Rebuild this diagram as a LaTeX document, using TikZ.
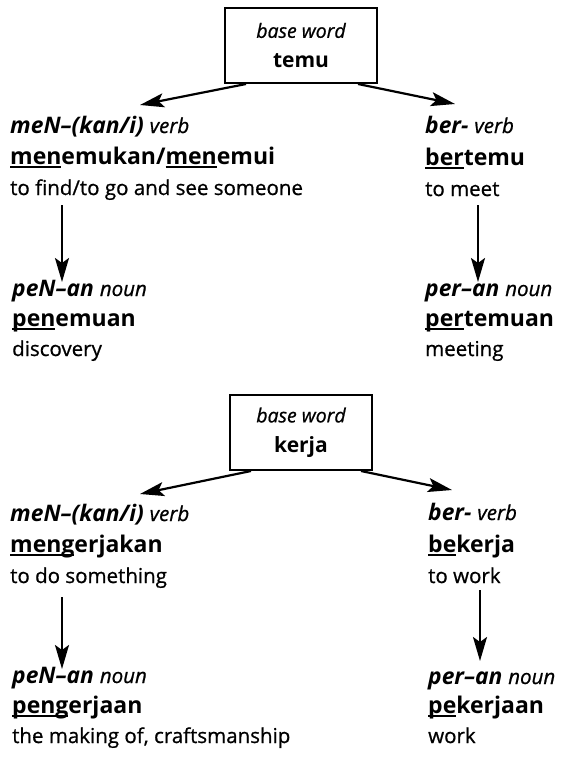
\documentclass[tikz,border=0pt]{standalone}
\usepackage{fontspec}
\setmainfont{Open Sans}[UprightFeatures={FakeBold=0.8}, ItalicFeatures={FakeBold=0.8}]
\usetikzlibrary{arrows.meta}
\newcommand\ulx[1]{\setbox0\hbox{#1}\rlap{\rule[-3.5pt]{\wd0}{1.9pt}}\box0}
\newcommand\wcls[2]{{\bfseries\itshape #1}\ {\itshape\fontsize{20.5}{24}\selectfont #2}}
\tikzset{
  lbl/.style={anchor=base west, inner sep=0pt, font=\fontsize{20.5}{24}\selectfont},
  hdl/.style={anchor=base west, inner sep=0pt, font=\fontsize{22.8}{26}\selectfont},
  wrd/.style={anchor=base west, inner sep=0pt, font=\fontsize{23}{26}\selectfont\bfseries},
  basebox/.style={draw, line width=2pt, minimum height=75pt, align=center,
    inner sep=0pt, font=\fontsize{19.5}{30}\selectfont},
  arr/.style={line width=2.2pt, -{Stealth[length=24pt,width=14pt,inset=5pt]}}
}
\begin{document}
\begin{tikzpicture}[x=1pt,y=-1pt]
\useasboundingbox (0,0) rectangle (563,758);
% ---- temu ----
\node[basebox, minimum width=152pt] (t1) at (301,45.5) {{\itshape base word}\\{\bfseries\fontsize{21}{30}\selectfont temu}};
\node[hdl] (a1) at (10,133) {\wcls{meN–(kan/i)}{verb}};
\node[wrd] (a2) at (10,164) {\ulx{men}emukan/\ulx{men}emui};
\node[lbl] (a3) at (10,195) {to find/to go and see someone};
\node[hdl] (b1) at (425,133) {\wcls{ber-}{verb}};
\node[wrd] (b2) at (425,165) {\ulx{ber}temu};
\node[lbl] (b3) at (425,196) {to meet};
\node[hdl] (c1) at (12,296) {\wcls{peN–an}{noun}};
\node[wrd] (c2) at (12,326) {\ulx{pen}emuan};
\node[lbl] (c3) at (12,356) {discovery};
\node[hdl] (d1) at (425,296) {\wcls{per–an}{noun}};
\node[wrd] (d2) at (425,326) {\ulx{per}temuan};
\node[lbl] (d3) at (425,356) {meeting};
\draw[arr] ([xshift=22pt]t1.south west) -- ([shift={(130pt,28pt)}]a1.base west);
\draw[arr] ([xshift=-20pt]t1.south east) -- ([shift={(30pt,29pt)}]b1.base west);
\draw[arr] ([shift={(52pt,-10pt)}]a3.base west) -- ([shift={(50pt,14pt)}]c1.base west);
\draw[arr] ([shift={(53pt,-9pt)}]b3.base west) -- ([shift={(53pt,14pt)}]d1.base west);
% ---- kerja ----
\node[basebox, minimum width=142pt] (t2) at (301,432.5) {{\itshape base word}\\{\bfseries\fontsize{21}{30}\selectfont kerja}};
\node[hdl] (e1) at (10,521) {\wcls{meN–(kan/i)}{verb}};
\node[wrd] (e2) at (10,552) {\ulx{meng}erjakan};
\node[lbl] (e3) at (10,583) {to do something};
\node[hdl] (f1) at (428,520) {\wcls{ber-}{verb}};
\node[wrd] (f2) at (428,552) {\ulx{be}kerja};
\node[lbl] (f3) at (428,583) {to work};
\node[hdl] (g1) at (12,683) {\wcls{peN–an}{noun}};
\node[wrd] (g2) at (12,713) {\ulx{peng}erjaan};
\node[lbl] (g3) at (12,743) {the making of, craftsmanship};
\node[hdl] (h1) at (428,684) {\wcls{per–an}{noun}};
\node[wrd] (h2) at (428,713) {\ulx{pe}kerjaan};
\node[lbl] (h3) at (428,743) {work};
\draw[arr] ([xshift=22pt]t2.south west) -- ([shift={(130pt,27pt)}]e1.base west);
\draw[arr] ([xshift=-12pt]t2.south east) -- ([shift={(24pt,30pt)}]f1.base west);
\draw[arr] ([shift={(52pt,-14pt)}]e3.base west) -- ([shift={(50pt,14pt)}]g1.base west);
\draw[arr] ([shift={(52pt,-7pt)}]f3.base west) -- ([shift={(52pt,23pt)}]h1.base west);
\end{tikzpicture}
\end{document}
